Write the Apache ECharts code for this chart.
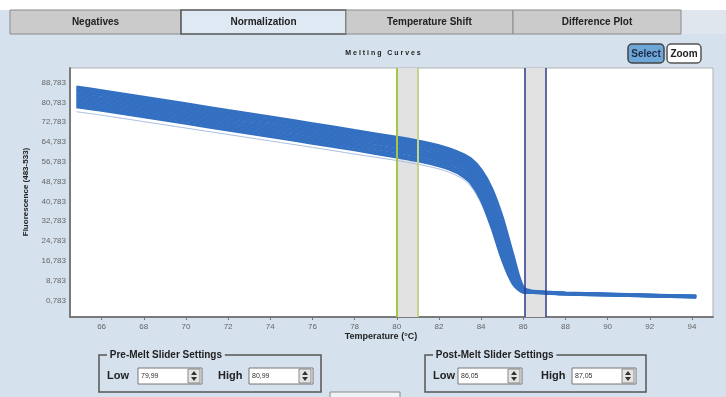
<!DOCTYPE html>
<html>
<head>
<meta charset="utf-8">
<script src="https://cdn.jsdelivr.net/npm/echarts@6/dist/echarts.min.js"></script>
<style>
  html, body { margin: 0; padding: 0; background: #d5e1ed; }
  #chart { width: 726px; height: 397px; }
</style>
</head>
<body>
<div id="chart"></div>
<script>
// melting curves, normalization tab
const temps = [64.8, 66, 68, 70, 72, 74, 76, 78, 80, 81, 82, 82.5, 83, 83.5, 84, 84.5, 85, 85.5, 86, 86.5, 87, 88, 90, 92, 94.2];

const curve1 = [87.0, 85.5, 82.9, 80.2, 77.5, 74.9, 72.2, 69.4, 66.7, 65.2, 63.3, 62.0, 60.3, 58.0, 53.5, 46.0, 34.5, 19.5, 6.0, 4.5, 4.2, 3.8, 3.4, 3.0, 2.6];
const curve2 = [86.0, 84.6, 81.9, 79.2, 76.5, 73.9, 71.2, 68.5, 65.8, 64.3, 62.4, 61.1, 59.4, 56.9, 52.0, 43.5, 31.0, 16.5, 5.2, 4.3, 4.1, 3.7, 3.3, 2.9, 2.5];
const curve3 = [85.0, 83.6, 81.0, 78.3, 75.6, 73.0, 70.3, 67.6, 64.8, 63.3, 61.4, 60.1, 58.4, 55.8, 50.5, 41.5, 29.0, 15.0, 4.9, 4.25, 4.05, 3.65, 3.25, 2.85, 2.45];
const curve4 = [84.0, 82.6, 80.0, 77.3, 74.6, 72.0, 69.3, 66.6, 63.8, 62.3, 60.4, 59.1, 57.4, 54.8, 49.5, 40.5, 28.0, 14.2, 4.7, 4.2, 4.0, 3.6, 3.2, 2.8, 2.4];
const curve5 = [83.0, 81.6, 79.0, 76.3, 73.6, 71.0, 68.3, 65.6, 62.8, 61.3, 59.4, 58.1, 56.4, 53.8, 48.5, 39.5, 27.0, 13.5, 4.6, 4.2, 4.0, 3.6, 3.2, 2.8, 2.4];
const curve6 = [82.0, 80.6, 78.0, 75.3, 72.6, 70.0, 67.3, 64.6, 61.8, 60.3, 58.4, 57.1, 55.3, 52.6, 47.0, 37.5, 25.0, 12.0, 4.4, 4.1, 3.9, 3.5, 3.1, 2.7, 2.3];
const curve7 = [81.0, 79.6, 77.0, 74.3, 71.6, 69.0, 66.3, 63.6, 60.8, 59.3, 57.4, 56.0, 54.2, 51.3, 45.5, 35.5, 22.5, 10.5, 4.3, 4.05, 3.85, 3.45, 3.05, 2.65, 2.25];
const curve8 = [80.0, 78.6, 76.0, 73.3, 70.6, 68.0, 65.3, 62.6, 59.7, 58.2, 56.3, 54.9, 53.0, 49.8, 43.5, 33.0, 20.0, 9.0, 4.2, 4.0, 3.8, 3.4, 3.0, 2.6, 2.2];
const curve9 = [79.0, 77.6, 75.0, 72.3, 69.6, 67.0, 64.3, 61.6, 58.7, 57.2, 55.2, 53.8, 51.8, 48.4, 41.5, 30.5, 17.5, 7.8, 4.1, 3.95, 3.75, 3.35, 2.95, 2.55, 2.15];
const curveLow = [77.0, 75.6, 73.0, 70.4, 67.8, 65.2, 62.6, 59.9, 57.3, 55.8, 53.9, 52.5, 50.5, 47.0, 40.0, 29.5, 16.5, 7.2, 4.0, 3.9, 3.7, 3.3, 2.9, 2.5, 2.1];

const curves = [curve1, curve2, curve3, curve4, curve5, curve6, curve7, curve8, curve9];

const yTicks = [0.783, 8.783, 16.783, 24.783, 32.783, 40.783, 48.783, 56.783, 64.783, 72.783, 80.783, 88.783];
const xTicks = [66, 68, 70, 72, 74, 76, 78, 80, 82, 84, 86, 88, 90, 92, 94];

const preMelt = [79.99, 80.99];
const postMelt = [86.05, 87.05];

const tabs = ["Negatives", "Normalization", "Temperature Shift", "Difference Plot"];
const activeTab = 1;

const chart = echarts.init(document.getElementById("chart"));

const FONT = "Liberation Sans, Arial, sans-serif";
const blue = "#3470c2";
const panel = "#d5e1ed";

function comma(v, d) {
  return v.toFixed(d).replace(".", ",");
}

// --- UI chrome (tabs, buttons, slider boxes)
const tabX = [10, 181, 346, 513, 681];
const graphic = [
  { type: "rect", shape: { x: 0, y: 0, width: 726, height: 10 }, style: { fill: "#ffffff" }, silent: true },
  { type: "rect", shape: { x: 681, y: 10, width: 45, height: 24 }, style: { fill: "#e0e6ee" }, silent: true },
];
tabs.forEach((t, i) => {
  const x0 = tabX[i], x1 = tabX[i + 1];
  const on = i === activeTab;
  graphic.push({
    type: "rect",
    shape: { x: x0, y: 10, width: x1 - x0, height: 24 },
    style: { fill: on ? "#dfe9f3" : "#cbcbcb", stroke: on ? "#555" : "#8a8a8a", lineWidth: on ? 1.5 : 1 },
    silent: true,
  });
  graphic.push({
    type: "text", x: (x0 + x1) / 2, y: 22,
    style: { text: t, align: "center", verticalAlign: "middle", font: "bold 10px " + FONT, fill: "#222" },
    silent: true,
  });
});

graphic.push(
  { type: "text", x: 383, y: 53, style: { text: "M e l t i n g   C u r v e s", align: "center", verticalAlign: "middle", font: "bold 7px " + FONT, fill: "#222" } },
  { type: "rect", shape: { x: 628, y: 44, width: 36, height: 19, r: 4 }, style: { fill: "#6fa6d8", stroke: "#444", lineWidth: 1.5 } },
  { type: "text", x: 646, y: 54, style: { text: "Select", align: "center", verticalAlign: "middle", font: "bold 10px " + FONT, fill: "#1c2a44" } },
  { type: "rect", shape: { x: 667, y: 44, width: 34, height: 19, r: 4 }, style: { fill: "#ffffff", stroke: "#555", lineWidth: 1.5 } },
  { type: "text", x: 684, y: 54, style: { text: "Zoom", align: "center", verticalAlign: "middle", font: "bold 10px " + FONT, fill: "#222" } },
  { type: "text", x: 26, y: 192, rotation: Math.PI / 2, style: { text: "Fluorescence (483-533)", align: "center", verticalAlign: "middle", font: "bold 8px " + FONT, fill: "#222" } },
  { type: "text", x: 381, y: 337, style: { text: "Temperature (°C)", align: "center", verticalAlign: "middle", font: "bold 9px " + FONT, fill: "#222" } },
  { type: "rect", shape: { x: 330, y: 392, width: 70, height: 10 }, style: { fill: "#eef2f6", stroke: "#888", lineWidth: 1 } }
);

function sliderBox(x0, x1, title, low, high, lowX, highX) {
  graphic.push(
    { type: "rect", shape: { x: x0, y: 355, width: x1 - x0, height: 37 }, style: { fill: "none", stroke: "#555", lineWidth: 1.5 } },
    { type: "text", x: x0 + 8, y: 355, style: { text: " " + title + " ", verticalAlign: "middle", font: "bold 10px " + FONT, fill: "#222", backgroundColor: panel } },
    { type: "text", x: x0 + 8, y: 376, style: { text: "Low", verticalAlign: "middle", font: "bold 11px " + FONT, fill: "#222" } },
    { type: "text", x: highX - 31, y: 376, style: { text: "High", verticalAlign: "middle", font: "bold 11px " + FONT, fill: "#222" } }
  );
  [[lowX, low], [highX, high]].forEach(([bx, v]) => {
    graphic.push(
      { type: "rect", shape: { x: bx, y: 368, width: 64, height: 16 }, style: { fill: "#ffffff", stroke: "#777", lineWidth: 1 } },
      { type: "text", x: bx + 3, y: 376, style: { text: comma(v, 2), verticalAlign: "middle", font: "7px " + FONT, fill: "#333" } },
      { type: "rect", shape: { x: bx + 50, y: 369, width: 12, height: 14 }, style: { fill: "#e4e4e4", stroke: "#888", lineWidth: 1 } },
      { type: "polygon", shape: { points: [[bx + 53, 375], [bx + 59, 375], [bx + 56, 371]] }, style: { fill: "#333" } },
      { type: "polygon", shape: { points: [[bx + 53, 377], [bx + 59, 377], [bx + 56, 381]] }, style: { fill: "#333" } }
    );
  });
}
sliderBox(99, 321, "Pre-Melt Slider Settings", preMelt[0], preMelt[1], 138, 249);
sliderBox(425, 646, "Post-Melt Slider Settings", postMelt[0], postMelt[1], 458, 572);

// --- curve series
const series = curves.map(c => ({
  type: "line",
  data: temps.map((t, i) => [t, c[i]]),
  smooth: 0.3,
  symbol: "none",
  lineStyle: { color: blue, width: 3 },
  z: 3,
  silent: true,
}));
series.unshift({
  type: "line",
  data: temps.map((t, i) => [t, curveLow[i]]),
  smooth: 0.3,
  symbol: "none",
  lineStyle: { color: "#a9bfe2", width: 1 },
  z: 2,
  silent: true,
});
series.unshift({
  type: "line",
  data: [],
  z: 1,
  silent: true,
  markArea: {
    silent: true,
    itemStyle: { color: "#e2e2e2" },
    data: [
      [{ xAxis: preMelt[0] }, { xAxis: preMelt[1] }],
      [{ xAxis: postMelt[0] }, { xAxis: postMelt[1] }],
    ],
  },
});
series.push({
  type: "line",
  data: [],
  z: 5,
  silent: true,
  markLine: {
    silent: true,
    symbol: ["none", "none"],
    label: { show: false },
    data: [
      { xAxis: preMelt[0], lineStyle: { color: "#a3c548", width: 2, type: "solid" } },
      { xAxis: preMelt[1], lineStyle: { color: "#c2d58a", width: 2, type: "solid" } },
      { xAxis: postMelt[0], lineStyle: { color: "#2e3a8c", width: 1.5, type: "solid" } },
      { xAxis: postMelt[1], lineStyle: { color: "#2e3a8c", width: 1.5, type: "solid" } },
    ],
  },
});

chart.setOption({
  animation: false,
  backgroundColor: panel,
  grid: {
    left: 70, right: 13, top: 68, bottom: 80,
    show: true, backgroundColor: "#ffffff", borderColor: "#b0b0b0", borderWidth: 1,
  },
  xAxis: {
    type: "value",
    min: 64.5,
    max: 95,
    axisLine: { onZero: false, lineStyle: { color: "#7a7a7a", width: 2 } },
    axisTick: { show: true, customValues: xTicks, length: 3, lineStyle: { color: "#777" } },
    axisLabel: { customValues: xTicks, color: "#666", fontSize: 8, fontFamily: FONT, margin: 6 },
    splitLine: { show: false },
  },
  yAxis: {
    type: "value",
    min: -5.9,
    max: 94.66,
    axisLine: { show: true, onZero: false, lineStyle: { color: "#7a7a7a", width: 2 } },
    axisTick: { show: false },
    axisLabel: {
      customValues: yTicks,
      color: "#666",
      fontSize: 8,
      fontFamily: FONT,
      margin: 4,
      formatter: v => comma(v, 3),
    },
    splitLine: { show: false },
  },
  graphic,
  series,
});
</script>
</body>
</html>
